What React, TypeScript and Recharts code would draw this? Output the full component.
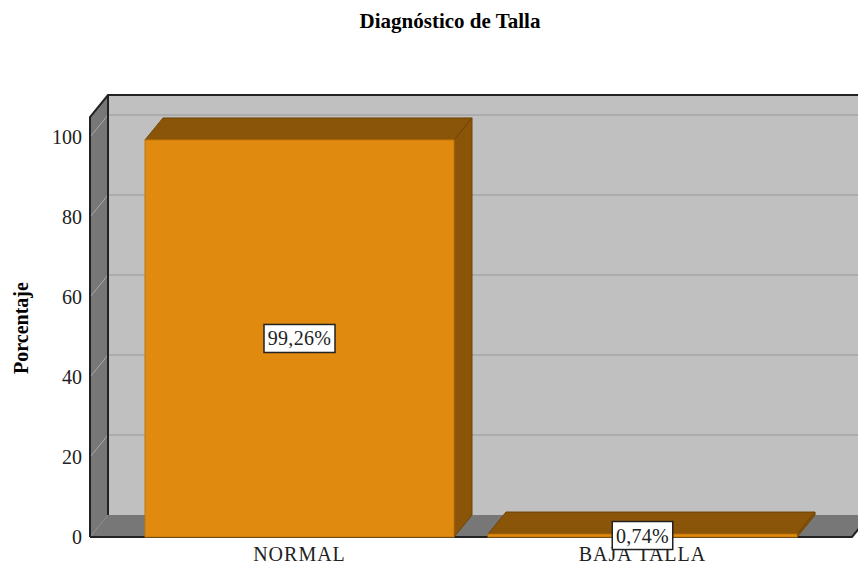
import React from 'react';
import {
  Bar,
  BarChart,
  Customized,
  LabelList,
  ReferenceArea,
  XAxis,
  YAxis,
} from 'recharts';

const categories = ['NORMAL', 'BAJA TALLA'];
const percentages = [99.26, 0.74];
const yTicks = [0, 20, 40, 60, 80, 100];
const Y_MAX = 105;

const data = categories.map((c, i) => ({ categoria: c, porcentaje: percentages[i] }));

// 3D depth of the box
const DX = 18;
const DY = 22;
// floor/walls reach past the outer categories
const SIDE_PAD = 38;

const FONT = '"Liberation Serif", "Times New Roman", serif';

const fmt = (v: number) => v.toFixed(2).replace('.', ',') + '%';

function Backdrop(props: any) {
  const { x, y, width, height } = props;
  const left = x - SIDE_PAD;
  const right = x + width + SIDE_PAD;
  const bottom = y + height;
  const top = y;
  const yOf = (v: number) => bottom - (v / Y_MAX) * height;
  return (
    <g>
      {/* back wall */}
      <rect x={left + DX} y={top - DY} width={right - left + 40} height={height} fill="#c0c0c0" />
      {/* left wall */}
      <polygon
        points={`${left},${bottom} ${left},${top} ${left + DX},${top - DY} ${left + DX},${bottom - DY}`}
        fill="#777777"
      />
      {/* floor */}
      <polygon
        points={`${left},${bottom} ${right},${bottom} ${right + DX},${bottom - DY} ${left + DX},${bottom - DY}`}
        fill="#777777"
      />
      {yTicks.slice(1).map((t) => (
        <g key={t}>
          <line x1={left} y1={yOf(t)} x2={left + DX} y2={yOf(t) - DY} stroke="#a9a9a9" strokeWidth={1} />
          <line x1={left + DX} y1={yOf(t) - DY} x2={right + 60} y2={yOf(t) - DY} stroke="#acacac" strokeWidth={2} />
        </g>
      ))}
      <line x1={left} y1={bottom} x2={left + DX} y2={bottom - DY} stroke="#8a8a8a" strokeWidth={1} />
      {/* outlines */}
      <polyline
        points={`${left},${bottom} ${left},${top} ${left + DX},${top - DY} ${right + 60},${top - DY}`}
        fill="none"
        stroke="#222"
        strokeWidth={2}
      />
      <line x1={left + DX} y1={top - DY} x2={left + DX} y2={bottom - DY} stroke="#222" strokeWidth={2} />
      <polyline
        points={`${left},${bottom} ${right},${bottom} ${right + DX},${bottom - DY}`}
        fill="none"
        stroke="#222"
        strokeWidth={2}
      />
    </g>
  );
}

function Bar3D(props: any) {
  const { x, y, width, height } = props;
  if (width == null || height == null) return null;
  const r = x + width;
  const b = y + height;
  return (
    <g>
      <polygon
        points={`${r},${y} ${r + DX},${y - DY} ${r + DX},${b - DY} ${r},${b}`}
        fill="#8a5508"
        stroke="#6e4406"
        strokeWidth={1}
      />
      <polygon
        points={`${x},${y} ${x + DX},${y - DY} ${r + DX},${y - DY} ${r},${y}`}
        fill="#8a5508"
        stroke="#6e4406"
        strokeWidth={1}
      />
      <rect x={x} y={y} width={width} height={height} fill="#e08a0f" stroke="#c27608" strokeWidth={1} />
    </g>
  );
}

function ValueLabel(props: any) {
  const { x, y, width, height, value } = props;
  if (x == null) return null;
  const cx = x + width / 2;
  const cy = y + height / 2;
  const text = fmt(Number(value));
  const w = text.length * 10.5 + 8;
  return (
    <g>
      <rect x={cx - w / 2} y={cy - 14} width={w} height={28} fill="#ffffff" stroke="#222" strokeWidth={1.5} />
      <text x={cx} y={cy + 7} textAnchor="middle" fontFamily={FONT} fontSize={20} letterSpacing={0.3} fill="#222">
        {text}
      </text>
    </g>
  );
}

function Titles() {
  return (
    <g>
      <text x={450} y={28} textAnchor="middle" fontFamily={FONT} fontSize={21} fontWeight="bold" fill="#000">
        Diagnóstico de Talla
      </text>
      <text
        x={0}
        y={0}
        transform="translate(28,328) rotate(-90)"
        textAnchor="middle"
        fontFamily={FONT}
        fontSize={20}
        fontWeight="bold"
        fill="#000"
      >
        Porcentaje
      </text>
    </g>
  );
}

export default function App() {
  return (
    <div style={{ position: 'absolute', left: 0, top: 0, background: '#fff' }}>
      <BarChart
        width={858}
        height={566}
        data={data}
        margin={{ top: 117, right: 44, bottom: 0, left: 68 }}
        barSize={309}
      >
        <ReferenceArea y1={0} y2={Y_MAX} shape={<Backdrop />} ifOverflow="visible" />
        <XAxis
          dataKey="categoria"
          axisLine={false}
          tickLine={false}
          tickSize={0}
          tickMargin={10}
          height={29}
          tick={{ fontFamily: FONT, fontSize: 20, fill: '#222', letterSpacing: 1 }}
        />
        <YAxis
          type="number"
          domain={[0, Y_MAX]}
          ticks={yTicks}
          width={60}
          axisLine={false}
          tickLine={false}
          tickSize={0}
          tickMargin={46}
          tick={{ fontFamily: FONT, fontSize: 20, fill: '#222' }}
        />
        <Bar dataKey="porcentaje" shape={<Bar3D />} isAnimationActive={false}>
          <LabelList dataKey="porcentaje" content={<ValueLabel />} />
        </Bar>
        <Customized component={<Titles />} />
      </BarChart>
    </div>
  );
}
